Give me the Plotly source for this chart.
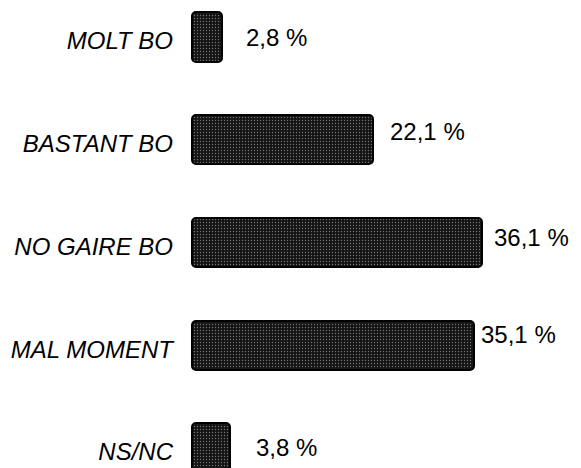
import plotly.graph_objects as go

categories = ["MOLT BO", "BASTANT BO", "NO GAIRE BO", "MAL MOMENT", "NS/NC"]
values = [2.8, 22.1, 36.1, 35.1, 3.8]
value_labels = ["2,8 %", "22,1 %", "36,1 %", "35,1 %", "3,8 %"]

# label style offsets (pixels)
label_xshift = [22, 15, 10, 5, 24]
label_yshift = [-1, 8, 5, 11, 0]

fig = go.Figure()
fig.add_trace(go.Bar(
    y=categories,
    x=[v + 1.1 for v in values],
    base=-1.1,
    orientation="h",
    width=0.48,
    marker=dict(
        color="#222222",
        line=dict(color="#000000", width=2),
        pattern=dict(shape=".", fgcolor="#767676", bgcolor="#141414",
                     size=3, solidity=0.15, fillmode="replace"),
        cornerradius=4,
    ),
    hoverinfo="skip",
))

for c, v, t, dx, dy in zip(categories, values, value_labels, label_xshift, label_yshift):
    fig.add_annotation(
        x=v, y=c, text=t, showarrow=False,
        xanchor="left", yanchor="middle",
        xshift=dx, yshift=dy,
        font=dict(family="Liberation Sans, Arial, sans-serif", size=24, color="#000"),
    )

fig.update_layout(
    width=573, height=460,
    margin=dict(l=182, r=0, t=0, b=0),
    paper_bgcolor="white", plot_bgcolor="white",
    showlegend=False,
    bargap=0,
    xaxis=dict(range=[-1.306, 48.75], visible=False, fixedrange=True, automargin=False),
    yaxis=dict(
        type="category",
        categoryorder="array", categoryarray=categories,
        range=[4.195, -0.282],
        showgrid=False, zeroline=False, showline=False,
        automargin=False,
        ticks="", ticklabelstandoff=16, ticklabelshift=-4,
        tickfont=dict(family="Liberation Sans, Arial, sans-serif", size=24, color="#000", style="italic"),
        fixedrange=True,
    ),
)

fig.write_html("out.html")
